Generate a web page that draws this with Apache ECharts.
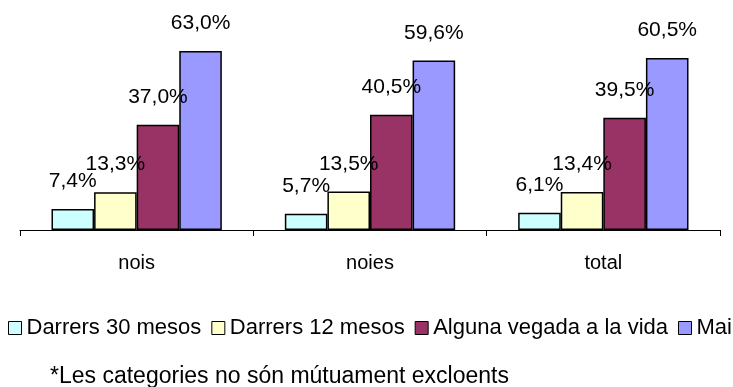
<!DOCTYPE html>
<html>
<head>
<meta charset="utf-8">
<script src="https://cdn.jsdelivr.net/npm/echarts@6/dist/echarts.min.js"></script>
<style>html,body{margin:0;padding:0;background:#fff;}#c{width:733px;height:387px;}</style>
</head>
<body>
<div id="c"></div>
<script>
var categories = ['nois', 'noies', 'total'];
var seriesNames = ['Darrers 30 mesos', 'Darrers 12 mesos', 'Alguna vegada a la vida', 'Mai'];
var darrers30 = [7.4, 5.7, 6.1];
var darrers12 = [13.3, 13.5, 13.4];
var alguna = [37.0, 40.5, 39.5];
var mai = [63.0, 59.6, 60.5];
var footnote = '*Les categories no són mútuament excloents';

var colors = ['#CCFFFF', '#FFFFCC', '#993366', '#9999FF'];
var values = [darrers30, darrers12, alguna, mai];
var FONT = 'Liberation Sans, Arial, sans-serif';

var chart = echarts.init(document.getElementById('c'), null, {renderer: 'canvas'});
chart.setOption({
  animation: false,
  color: colors,
  textStyle: {fontFamily: FONT},
  grid: {left: 20, right: 13, top: 31, bottom: 157, containLabel: false},
  xAxis: {
    type: 'category',
    data: categories,
    axisLine: {lineStyle: {color: '#000', width: 1}},
    axisTick: {show: true, length: 6, lineStyle: {color: '#000', width: 1}},
    axisLabel: {color: '#000', fontSize: 20, fontFamily: FONT, margin: 23}
  },
  yAxis: {
    type: 'value', min: 0, max: 70,
    show: false,
    splitLine: {show: false}
  },
  legend: {
    left: 8, top: 317, width: 900, padding: 0,
    icon: 'rect', itemWidth: 13, itemHeight: 13, itemGap: 10,
    textStyle: {color: '#000', fontSize: 22, fontFamily: FONT},
    data: seriesNames.map(function (n, i) {
      return {name: n, itemStyle: {color: colors[i], borderColor: '#000', borderWidth: 1}};
    })
  },
  graphic: [{
    type: 'text', left: 50, top: 365,
    style: {text: footnote, fill: '#000', font: '23px ' + FONT}
  }],
  series: values.map(function (v, i) {
    return {
      name: seriesNames[i], type: 'bar', data: v,
      barGap: '0%', barCategoryGap: '27%',
      itemStyle: {color: colors[i], borderColor: '#000', borderWidth: 1.5},
      label: {
        show: true, position: 'top', distance: 17, color: '#000',
        fontSize: 21, fontFamily: FONT,
        formatter: function (p) { return p.value.toFixed(1).replace('.', ',') + '%'; }
      }
    };
  })
});
</script>
</body>
</html>
